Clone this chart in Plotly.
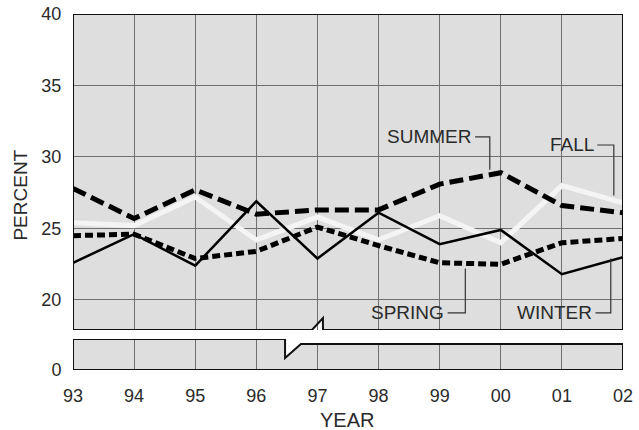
import plotly.graph_objects as go

# ---- data ----
years = [93, 94, 95, 96, 97, 98, 99, 100, 101, 102]
year_labels = ["93", "94", "95", "96", "97", "98", "99", "00", "01", "02"]
summer = [27.8, 25.7, 27.7, 26.0, 26.3, 26.3, 28.1, 28.9, 26.6, 26.1]
fall = [25.4, 25.2, 27.2, 24.2, 25.8, 24.2, 25.9, 24.0, 28.0, 26.8]
spring = [24.5, 24.6, 22.9, 23.4, 25.1, 23.8, 22.6, 22.5, 24.0, 24.3]
winter = [22.6, 24.6, 22.4, 26.9, 22.9, 26.1, 23.9, 24.9, 21.8, 23.0]
y_ticks_upper = [20, 25, 30, 35, 40]
y_ticks_lower = [0]

FONT = "Liberation Sans, Arial, Helvetica, sans-serif"
TXT = "#2a2a2a"
BG = "#dedede"
GRID = "#707070"

fig = go.Figure()

common = dict(mode="lines", xaxis="x2", yaxis="y", hoverinfo="skip", showlegend=False)
fig.add_trace(go.Scatter(x=years, y=fall, line=dict(color="#f4f4f4", width=5), name="FALL", **common))
fig.add_trace(go.Scatter(x=years, y=winter, line=dict(color="black", width=2.5), name="WINTER", **common))
fig.add_trace(go.Scatter(x=years, y=spring, line=dict(color="black", width=5, dash="8px,4px"), name="SPRING", **common))
fig.add_trace(go.Scatter(x=years, y=summer, line=dict(color="black", width=5, dash="14px,6px"), name="SUMMER", **common))

# panel geometry (axis units)
U_BOT, U_TOP = 17.9, 40
L_TOP_LEFT, L_TOP_RIGHT, L_DIP = 2.17, 1.82, 0.84
upper_path = (f"M93,{U_TOP} L102,{U_TOP} L102,{U_BOT} L97.09,{U_BOT} L97.09,18.74 "
              f"L96.91,{U_BOT} L93,{U_BOT} Z")
lower_path = (f"M93,0 L102,0 L102,{L_TOP_RIGHT} L96.73,{L_TOP_RIGHT} L96.47,{L_DIP} "
              f"L96.47,{L_TOP_LEFT} L93,{L_TOP_LEFT} Z")
cover_path = (f"M96.47,{L_TOP_LEFT + 0.1} L96.47,{L_DIP} L96.73,{L_TOP_RIGHT} "
              f"L102.2,{L_TOP_RIGHT} L102.2,{L_TOP_LEFT + 0.1} Z")

shapes = [
    dict(type="path", path=upper_path, xref="x2", yref="y", fillcolor=BG, line=dict(width=0), layer="below"),
    dict(type="path", path=lower_path, xref="x", yref="y2", fillcolor=BG, line=dict(width=0), layer="below"),
    dict(type="path", path=cover_path, xref="x", yref="y2", fillcolor="white", line=dict(width=0), layer="between"),
    dict(type="path", path=upper_path, xref="x2", yref="y", line=dict(color="#111", width=2), layer="above"),
    dict(type="path", path=lower_path, xref="x", yref="y2", line=dict(color="#111", width=2), layer="above"),
]

# leader lines for labels
leaders = [
    ("M99.58,31.4 L99.82,31.4 L99.82,29.1"),
    ("M101.58,30.84 L101.85,30.84 L101.85,27.3"),
    ("M99.13,19.1 L99.42,19.1 L99.42,22.2"),
    ("M101.55,19.1 L101.8,19.1 L101.8,22.9"),
]
for p in leaders:
    shapes.append(dict(type="path", path=p, xref="x2", yref="y", line=dict(color="#333", width=1.2), layer="above"))

annotations = [
    dict(text="SUMMER", x=99.55, y=31.45, xref="x2", yref="y", xanchor="right", yanchor="middle", showarrow=False),
    dict(text="FALL", x=101.55, y=30.9, xref="x2", yref="y", xanchor="right", yanchor="middle", showarrow=False),
    dict(text="SPRING", x=99.1, y=19.15, xref="x2", yref="y", xanchor="right", yanchor="middle", showarrow=False),
    dict(text="WINTER", x=101.52, y=19.15, xref="x2", yref="y", xanchor="right", yanchor="middle", showarrow=False),
]
for a in annotations:
    a["font"] = dict(family=FONT, size=19, color=TXT)
annotations.append(dict(text="PERCENT", x=-0.0945, y=0.49, xref="paper", yref="paper", textangle=-90,
                        xanchor="center", yanchor="middle",
                        showarrow=False, font=dict(family=FONT, size=19, color=TXT)))
annotations.append(dict(text="YEAR", x=0.498, y=-0.14, xref="paper", yref="paper", yanchor="middle",
                        showarrow=False, font=dict(family=FONT, size=20, color=TXT)))

axis_font = dict(family=FONT, size=18, color=TXT)
fig.update_layout(
    width=639, height=430,
    margin=dict(l=73, r=16, t=14, b=60, autoexpand=False),
    paper_bgcolor="white", plot_bgcolor="white",
    shapes=shapes, annotations=annotations,
    xaxis=dict(domain=[0, 1], anchor="y2", range=[93, 102], tickvals=years, ticktext=year_labels,
               showgrid=True, gridcolor=GRID, gridwidth=1, zeroline=False, showline=False, automargin=False,
               ticks="outside", ticklen=9, tickcolor="rgba(0,0,0,0)", tickfont=axis_font),
    xaxis2=dict(matches="x", anchor="y", range=[93, 102], tickvals=years, showticklabels=False, automargin=False,
                showgrid=True, gridcolor=GRID, gridwidth=1, zeroline=False, showline=False, ticks=""),
    yaxis=dict(domain=[0.11236, 1], anchor="x2", range=[U_BOT, U_TOP], tickvals=y_ticks_upper,
               showgrid=True, gridcolor=GRID, gridwidth=1, zeroline=False, showline=False, automargin=False,
               ticks="outside", ticklen=7, tickcolor="rgba(0,0,0,0)", tickfont=axis_font),
    yaxis2=dict(domain=[0, 0.0871], anchor="x", range=[0, L_TOP_LEFT], tickvals=y_ticks_lower,
                showgrid=False, zeroline=False, showline=False, automargin=False,
                ticks="outside", ticklen=7, tickcolor="rgba(0,0,0,0)", tickfont=axis_font),
)

fig.write_html("out.html", config={"displayModeBar": False},
               post_script="document.body.style.margin='0px';document.body.style.overflow='hidden';")
